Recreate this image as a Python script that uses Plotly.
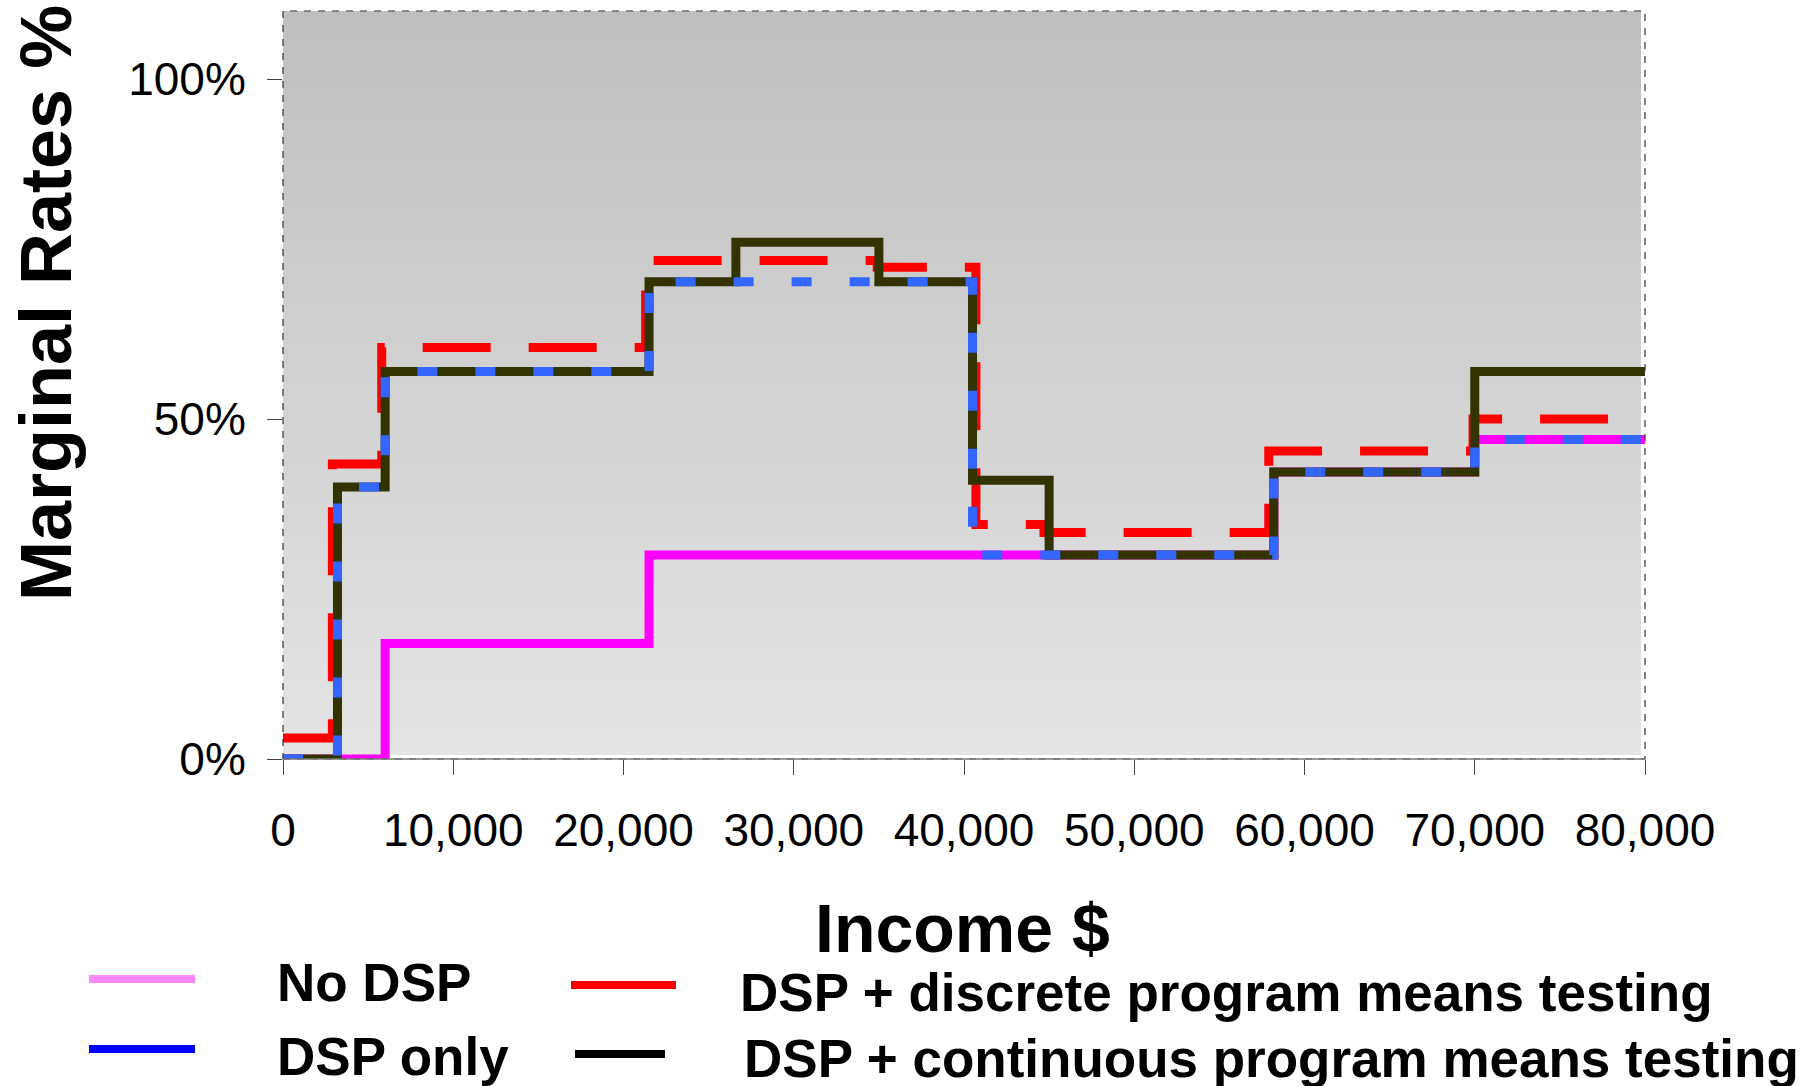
import plotly.graph_objects as go

# ---------------- data ----------------
x_ticks = [0, 10000, 20000, 30000, 40000, 50000, 60000, 70000, 80000]
y_ticks = [0, 50, 100]
y_tick_labels = ["0%", "50%", "100%"]

# step functions: breakpoints (income $) and marginal rate (%) on each interval
nodsp_x = [0, 6000, 21500, 58200, 70000, 80000]
nodsp_y = [0, 17, 30, 42.2, 47, 47]

discrete_x = [0, 2900, 5800, 21300, 34900, 40700, 44700, 57900, 69900, 80000]
discrete_y = [3.1, 43.4, 60.5, 73.3, 72.3, 34.5, 33.3, 45.3, 50.0, 50.0]

continuous_x = [0, 3200, 6000, 21500, 26600, 35000, 40500, 45000, 58200, 70000, 80000]
continuous_y = [0, 40, 57, 70.2, 76, 70.2, 41, 30, 42.2, 57, 57]

dsponly_x = [0, 3200, 6000, 21500, 40500, 58200, 70000, 80000]
dsponly_y = [0, 40, 57, 70.2, 30, 42.2, 47, 47]

legend_names = ["No DSP", "DSP only", "DSP + discrete program means testing",
                "DSP + continuous program means testing"]

# ---------------- layout geometry ----------------
W, H = 1818, 1086
ML, MR, MT, MB = 283, 173, 11, 327
PW, PH = W - ML - MR, H - MT - MB


def pxx(p):
    return (p - ML) / PW


def pxy(p):
    return (H - MB - p) / PH


FONT = "Liberation Sans, Arial, sans-serif"

fig = go.Figure()

fig.add_trace(go.Scatter(x=nodsp_x, y=nodsp_y, mode="lines", line_shape="hv",
                         line=dict(color="#ff00ff", width=9), name=legend_names[0]))
fig.add_trace(go.Scatter(x=discrete_x, y=discrete_y, mode="lines", line_shape="hv",
                         line=dict(color="#ff0000", width=9, dash="68px,38px"),
                         name=legend_names[2]))
fig.add_trace(go.Scatter(x=continuous_x, y=continuous_y, mode="lines", line_shape="hv",
                         line=dict(color="#333300", width=9), name=legend_names[3]))
fig.add_trace(go.Scatter(x=dsponly_x, y=dsponly_y, mode="lines", line_shape="hv",
                         line=dict(color="#3366ff", width=9, dash="20px,38px"),
                         name=legend_names[1]))

shapes = []
# vertical gradient background (bands overlap slightly to avoid seams)
n = 80
top_gap = 4 / PH
for i in range(n):
    t0 = top_gap + (1 - top_gap) * i / n
    t1 = top_gap + (1 - top_gap) * (i + 1) / n
    v = round(228 - (228 - 191) * (i + 0.5) / n)
    shapes.append(dict(type="rect", xref="paper", yref="paper", x0=0, x1=1 - 4 / PW,
                       y0=t0, y1=min(1, t1 + 0.006),
                       fillcolor=f"rgb({v},{v},{v})", line=dict(width=0), layer="below"))
# dashed frame
shapes.append(dict(type="rect", xref="paper", yref="paper", x0=0, x1=1, y0=0, y1=1,
                   line=dict(color="#333333", width=1.2, dash="7px,7px"),
                   fillcolor="rgba(0,0,0,0)", layer="above"))
shapes.append(dict(type="line", xref="paper", yref="paper", x0=0, x1=1, y0=0, y1=0,
                   line=dict(color="#777777", width=1.5), layer="above"))

# legend swatches
sw = [("#ff88ff", 89, 195, 979), ("#0000ff", 89, 195, 1049),
      ("#ff0000", 571, 676, 985), ("#000000", 575, 665, 1054)]
for col, a, b, yy in sw:
    shapes.append(dict(type="line", xref="paper", yref="paper", x0=pxx(a), x1=pxx(b),
                       y0=pxy(yy), y1=pxy(yy), line=dict(color=col, width=8)))

annotations = [
    dict(text="Income $", x=pxx(962), y=pxy(928), xref="paper", yref="paper",
         showarrow=False, xanchor="center", yanchor="middle",
         font=dict(family=FONT, size=68, color="black", weight="bold")),
    dict(text="Marginal Rates %", x=pxx(46), y=pxy(303), xref="paper", yref="paper",
         showarrow=False, xanchor="center", yanchor="middle", textangle=-90,
         font=dict(family=FONT, size=72, color="black", weight="bold")),
]
leg_pos = [(275, 983), (275, 1056), (738, 993), (742, 1058)]
for name, (lx, ly) in zip(legend_names, leg_pos):
    annotations.append(dict(text=name, x=pxx(lx), y=pxy(ly), xref="paper", yref="paper",
                            showarrow=False, xanchor="left", yanchor="middle",
                            font=dict(family=FONT, size=53, color="black", weight="bold")))

fig.update_layout(
    width=W, height=H,
    margin=dict(l=ML, r=MR, t=MT, b=MB, pad=0),
    paper_bgcolor="white", plot_bgcolor="rgba(0,0,0,0)",
    showlegend=False,
    shapes=shapes, annotations=annotations,
    xaxis=dict(range=[0, 80000], tickvals=x_ticks, tickformat=",d",
               ticks="outside", ticklen=15, tickwidth=1, tickcolor="#444",
               showgrid=False, zeroline=False, showline=False,
               ticklabelstandoff=16,
               tickfont=dict(family=FONT, size=46, color="black")),
    yaxis=dict(range=[0, 110], tickvals=y_ticks, ticktext=y_tick_labels,
               ticks="outside", ticklen=15, tickwidth=1, tickcolor="#444",
               showgrid=False, zeroline=False, showline=False,
               ticklabelstandoff=12,
               tickfont=dict(family=FONT, size=46, color="black")),
)

fig.write_html("out.html", config={"displayModeBar": False},
               post_script="document.body.style.margin='0px';document.body.style.overflow='hidden';")
